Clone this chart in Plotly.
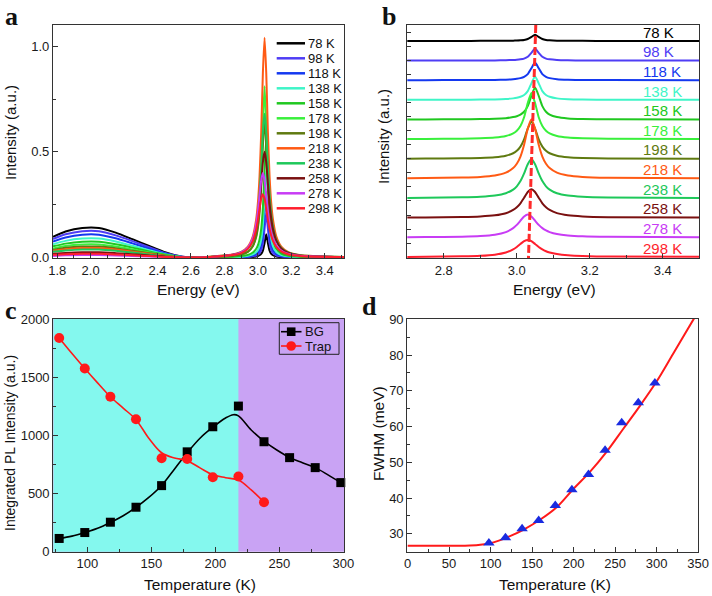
import plotly.graph_objects as go

FONT = "Arial, Liberation Sans, sans-serif"
SERIF = "Times New Roman, Liberation Serif, serif"
W, H = 712, 596

# ---- panel a / b : temperature dependent PL spectra ----
temps = [78, 98, 118, 138, 158, 178, 198, 218, 238, 258, 278, 298]
colors = ["#000000", "#4f3df5", "#1438f0", "#3ff5c8", "#20c820", "#39f03c",
          "#5f7a10", "#ff5a14", "#1ec85a", "#7a1010", "#c83cf5", "#ff1e2d"]

energy = [1.775, 1.85, 1.95, 2.05, 2.15, 2.25, 2.35, 2.45, 2.55, 2.65,
          2.75, 2.85, 2.90, 2.94, 2.97, 2.99, 3.00, 3.01, 3.02, 3.03, 3.04,
          3.05, 3.06, 3.07, 3.08, 3.09, 3.11, 3.14, 3.18, 3.25, 3.53]

pl_78 = [0.098, 0.123, 0.140, 0.140, 0.118, 0.087, 0.055, 0.024, 0.004, 0.000,
         0.000, 0.000, 0.001, 0.002, 0.003, 0.005, 0.007, 0.011, 0.017, 0.033, 0.069,
         0.110, 0.069, 0.033, 0.017, 0.011, 0.005, 0.002, 0.001, 0.000, 0.000]
pl_98 = [0.088, 0.110, 0.125, 0.125, 0.105, 0.078, 0.049, 0.021, 0.004, 0.000,
         0.000, 0.001, 0.002, 0.003, 0.006, 0.010, 0.014, 0.021, 0.035, 0.066, 0.136,
         0.210, 0.136, 0.066, 0.035, 0.021, 0.010, 0.005, 0.002, 0.001, 0.000]
pl_118 = [0.076, 0.095, 0.108, 0.108, 0.091, 0.067, 0.042, 0.018, 0.003, 0.000,
          0.001, 0.002, 0.003, 0.005, 0.010, 0.017, 0.024, 0.036, 0.059, 0.107, 0.210,
          0.310, 0.210, 0.107, 0.059, 0.036, 0.017, 0.008, 0.004, 0.002, 0.000]
pl_138 = [0.063, 0.079, 0.090, 0.090, 0.076, 0.056, 0.035, 0.015, 0.003, 0.000,
          0.001, 0.002, 0.004, 0.008, 0.015, 0.026, 0.036, 0.054, 0.086, 0.154, 0.290,
          0.410, 0.290, 0.154, 0.086, 0.054, 0.026, 0.012, 0.006, 0.002, 0.000]
pl_158 = [0.053, 0.066, 0.075, 0.075, 0.063, 0.047, 0.029, 0.013, 0.002, 0.000,
          0.002, 0.004, 0.007, 0.013, 0.024, 0.042, 0.058, 0.086, 0.136, 0.235, 0.416,
          0.560, 0.416, 0.235, 0.136, 0.086, 0.042, 0.019, 0.009, 0.004, 0.001]
pl_178 = [0.043, 0.055, 0.062, 0.062, 0.052, 0.038, 0.024, 0.011, 0.002, 0.000,
          0.003, 0.008, 0.015, 0.028, 0.056, 0.102, 0.149, 0.232, 0.384, 0.634, 0.810,
          0.634, 0.384, 0.232, 0.149, 0.102, 0.056, 0.028, 0.015, 0.007, 0.001]
pl_198 = [0.036, 0.046, 0.052, 0.052, 0.044, 0.032, 0.020, 0.009, 0.002, 0.000,
          0.003, 0.008, 0.014, 0.027, 0.054, 0.097, 0.140, 0.214, 0.341, 0.530, 0.650,
          0.530, 0.341, 0.214, 0.140, 0.097, 0.054, 0.027, 0.014, 0.006, 0.001]
pl_218 = [0.032, 0.040, 0.045, 0.045, 0.038, 0.028, 0.018, 0.008, 0.001, 0.000,
          0.007, 0.015, 0.027, 0.052, 0.101, 0.182, 0.258, 0.385, 0.592, 0.875, 1.040,
          0.875, 0.592, 0.385, 0.258, 0.182, 0.101, 0.052, 0.027, 0.012, 0.002]
pl_238 = [0.027, 0.033, 0.038, 0.038, 0.032, 0.024, 0.015, 0.006, 0.001, 0.000,
          0.006, 0.013, 0.024, 0.045, 0.085, 0.149, 0.207, 0.298, 0.433, 0.595, 0.680,
          0.595, 0.433, 0.298, 0.207, 0.149, 0.085, 0.045, 0.024, 0.011, 0.002]
pl_258 = [0.018, 0.022, 0.025, 0.025, 0.021, 0.016, 0.010, 0.004, 0.001, 0.000,
          0.005, 0.013, 0.023, 0.043, 0.080, 0.136, 0.184, 0.254, 0.350, 0.451, 0.500,
          0.451, 0.350, 0.254, 0.184, 0.136, 0.080, 0.043, 0.023, 0.010, 0.002]
pl_278 = [0.008, 0.011, 0.012, 0.012, 0.010, 0.007, 0.005, 0.002, 0.000, 0.000,
          0.005, 0.013, 0.024, 0.047, 0.093, 0.162, 0.219, 0.293, 0.366, 0.400, 0.366,
          0.293, 0.219, 0.162, 0.121, 0.093, 0.058, 0.033, 0.018, 0.009, 0.002]
pl_298 = [0.013, 0.016, 0.018, 0.018, 0.015, 0.011, 0.007, 0.003, 0.001, 0.000,
          0.005, 0.012, 0.021, 0.041, 0.079, 0.134, 0.177, 0.229, 0.278, 0.300, 0.278,
          0.229, 0.177, 0.134, 0.102, 0.079, 0.051, 0.029, 0.016, 0.008, 0.002]
spectra = [pl_78, pl_98, pl_118, pl_138, pl_158, pl_178,
           pl_198, pl_218, pl_238, pl_258, pl_278, pl_298]

# stacking in panel b
stack_level = [11, 10, 9, 8, 7, 6, 5, 4, 3, 2, 1, 0]
stack_step = 0.345
guide_energy = [3.052, 3.032]
guide_level = [11.81, -0.05]

# ---- panel c : integrated PL intensity ----
t_points = [78, 98, 118, 138, 158, 178, 198, 218, 238, 258, 278, 298]
bg_points = [112, 163, 252, 381, 567, 858, 1074, 1252, 945, 808, 722, 593]
t_trap = [78, 98, 118, 138, 158, 178, 198, 218, 238]
trap_points = [1839, 1576, 1332, 1138, 803, 797, 639, 645, 424]

t_bg_fit = [78, 88, 98, 108, 118, 128, 138, 148, 158, 168, 178, 188, 198, 208,
            214, 218, 228, 238, 248, 258, 268, 278, 288, 298]
bg_fit = [112, 132, 163, 200, 250, 308, 380, 465, 568, 708, 850, 975, 1070, 1150,
          1178, 1168, 1046, 950, 874, 810, 765, 722, 660, 593]
t_trap_fit = [78, 88, 98, 108, 118, 128, 138, 148, 158, 168, 178, 188, 198, 208,
              218, 228, 238]
trap_fit = [1839, 1705, 1576, 1452, 1332, 1235, 1135, 975, 850, 805, 782, 720,
            660, 635, 615, 530, 424]
shade_split = 218

# ---- panel d : FWHM ----
t_fwhm = [98, 118, 138, 158, 178, 198, 218, 238, 258, 278, 298]
fwhm = [27.4, 28.9, 31.4, 33.7, 37.9, 42.3, 46.6, 53.4, 61.1, 66.7, 72.2]
t_fwhm_fit = [0, 50, 75, 90, 100, 110, 120, 140, 160, 180, 200, 220, 240, 260,
              280, 300, 320, 345, 352]
fwhm_fit = [26.65, 26.65, 26.7, 27.0, 27.4, 28.1, 29.0, 31.2, 34.0, 37.5, 42.6,
            47.4, 53.0, 59.4, 65.8, 72.6, 80.4, 90.2, 93.0]


def px(x):
    return x / W


def py(y):
    return 1 - y / H


fig = go.Figure()

# panel a
for t, c, s in zip(temps, colors, spectra):
    fig.add_trace(go.Scatter(x=energy, y=s, mode="lines", xaxis="x", yaxis="y",
                             line=dict(color=c, width=2, shape="spline", smoothing=0.6),
                             name=f"{t} K"))

# panel b
for t, c, s, lv in zip(temps, colors, spectra, stack_level):
    fig.add_trace(go.Scatter(x=energy, y=[v / stack_step + lv for v in s], mode="lines",
                             xaxis="x2", yaxis="y2",
                             line=dict(color=c, width=2, shape="spline", smoothing=0.6)))
fig.add_trace(go.Scatter(x=guide_energy, y=guide_level, mode="lines", xaxis="x2", yaxis="y2",
                         line=dict(color="#ff2a2a", width=3, dash="8px,3px")))

# panel c
fig.add_trace(go.Scatter(x=t_bg_fit, y=bg_fit, mode="lines", xaxis="x3", yaxis="y3",
                         line=dict(color="black", width=1.6, shape="spline")))
fig.add_trace(go.Scatter(x=t_trap_fit, y=trap_fit, mode="lines", xaxis="x3", yaxis="y3",
                         line=dict(color="#ff1a1a", width=1.6, shape="spline")))
fig.add_trace(go.Scatter(x=t_points, y=bg_points, mode="markers", xaxis="x3", yaxis="y3",
                         marker=dict(symbol="square", size=9, color="black"), cliponaxis=False))
fig.add_trace(go.Scatter(x=t_trap, y=trap_points, mode="markers", xaxis="x3", yaxis="y3",
                         marker=dict(symbol="circle", size=10, color="#ff1a1a")))

# panel d
fig.add_trace(go.Scatter(x=t_fwhm_fit, y=fwhm_fit, mode="lines", xaxis="x4", yaxis="y4",
                         line=dict(color="#ff1a1a", width=2, shape="spline")))
fig.add_trace(go.Scatter(x=t_fwhm, y=fwhm, mode="markers", xaxis="x4", yaxis="y4",
                         marker=dict(symbol="triangle-up", size=10, color="#1a2be0")))

tickfont = dict(family=FONT, size=13, color="#1a1a1a")


def axis(**kw):
    base = dict(showline=True, linecolor="#333", linewidth=1.2, mirror=True,
                ticks="inside", ticklen=5, tickwidth=1.2, tickcolor="#333",
                showgrid=False, zeroline=False, tickfont=tickfont, automargin=False)
    base.update(kw)
    return base


def minor(d):
    return dict(ticks="inside", ticklen=3, tickwidth=1, tickcolor="#333", dtick=d)


ya_dom = [py(258), py(25)]
yc_dom = [py(551.7), py(319)]
fig.update_layout(
    width=W, height=H, margin=dict(l=0, r=0, t=0, b=0, autoexpand=False),
    paper_bgcolor="white", plot_bgcolor="white", showlegend=False,
    xaxis=axis(domain=[px(53), px(344)], range=[1.775, 3.515], dtick=0.2, tick0=1.8,
               tickformat=".1f", minor=minor(0.1), anchor="y"),
    yaxis=axis(domain=ya_dom, range=[-0.002, 1.1], dtick=0.5, tickformat=".1f",
               minor=minor(0.25), anchor="x"),
    xaxis2=axis(domain=[px(407.3), px(699.3)], range=[2.7, 3.5], dtick=0.2, tick0=2.8,
                tickformat=".1f", minor=minor(0.1), anchor="y2"),
    yaxis2=axis(domain=ya_dom, range=[-0.05, 11.81], dtick=0.713, tick0=0,
                showticklabels=False, ticklen=4, anchor="x2"),
    xaxis3=axis(domain=[px(53.3), px(344)], range=[73.4, 300.5], dtick=50, tick0=0,
                minor=minor(25), anchor="y3"),
    yaxis3=axis(domain=yc_dom, range=[-2, 2002], dtick=500, minor=minor(250), anchor="x3"),
    xaxis4=axis(domain=[px(407.3), px(698.3)], range=[-0.3, 350.3], dtick=50, tick0=0,
                minor=minor(25), anchor="y4"),
    yaxis4=axis(domain=yc_dom, range=[25, 90.1], dtick=10, tick0=0, minor=minor(5),
                anchor="x4"),
)

shapes = [
    dict(type="rect", xref="x3 domain", yref="y3 domain", x0=0, x1=1, y0=0, y1=1,
         fillcolor="#c9a3f4", line_width=0, layer="below"),
    dict(type="rect", xref="x3", yref="y3 domain", x0=73.4, x1=shade_split, y0=0, y1=1,
         fillcolor="#84f8ee", line_width=0, layer="below"),
]
annotations = []

# panel a legend
for i, (t, c) in enumerate(zip(temps, colors)):
    yc = 43.3 + i * 15.0
    shapes.append(dict(type="line", xref="paper", yref="paper", x0=px(276.7), x1=px(305),
                       y0=py(yc), y1=py(yc), line=dict(color=c, width=2.5)))
    annotations.append(dict(text=f"{t} K", xref="paper", yref="paper", x=px(306), y=py(yc),
                            xanchor="left", yanchor="middle", showarrow=False,
                            font=dict(family=FONT, size=13, color="#111")))

# panel b labels
for t, c, lv in zip(temps, colors, stack_level):
    annotations.append(dict(text=f"{t} K", xref="x2", yref="y2", x=3.34, y=lv + 0.45,
                            xanchor="left", yanchor="middle", showarrow=False,
                            font=dict(family=FONT, size=15, color=c)))

# panel c legend
shapes.append(dict(type="rect", xref="paper", yref="paper", x0=px(279.3), x1=px(339),
                   y0=py(354.3), y1=py(322.7), line=dict(color="#222", width=1)))
for name, yc, c, sym in [("BG", 331.7, "black", "square"), ("Trap", 346, "#ff1a1a", "circle")]:
    shapes.append(dict(type="line", xref="paper", yref="paper", x0=px(281), x1=px(301.5),
                       y0=py(yc), y1=py(yc), line=dict(color=c, width=1.6)))
    r = 4.3 if sym == "square" else 4.8
    shapes.append(dict(type="rect" if sym == "square" else "circle", xref="paper", yref="paper",
                       x0=px(291.2 - r), x1=px(291.2 + r), y0=py(yc + r), y1=py(yc - r),
                       fillcolor=c, line_width=0))
    annotations.append(dict(text=name, xref="paper", yref="paper", x=px(303), y=py(yc),
                            xanchor="left", yanchor="middle", showarrow=False,
                            font=dict(family=FONT, size=13, color="#111")))

# axis titles
for text, x, y, ang, size in [("Energy (eV)", 198, 289, 0, 15.5),
                              ("Intensity (a.u.)", 10, 133, -90, 15),
                              ("Energy (eV)", 554, 289, 0, 15.5),
                              ("Intensity (a.u.)", 383, 136, -90, 15),
                              ("Temperature (K)", 200, 584, 0, 15.5),
                              ("Integrated PL Intensity (a.u.)", 10, 443, -90, 14),
                              ("Temperature (K)", 555, 584, 0, 15.5),
                              ("FWHM (meV)", 378, 434, -90, 15.5)]:
    annotations.append(dict(text=text, xref="paper", yref="paper", x=px(x), y=py(y),
                            xanchor="center", yanchor="middle", showarrow=False,
                            textangle=ang, font=dict(family=FONT, size=size, color="#111")))

# panel letters
for letter, x, y in [("a", 11, 17), ("b", 389, 17), ("c", 11, 310), ("d", 369, 306)]:
    annotations.append(dict(text=f"<b>{letter}</b>", xref="paper", yref="paper", x=px(x), y=py(y),
                            xanchor="center", yanchor="middle", showarrow=False,
                            font=dict(family=SERIF, size=26, color="#111")))

fig.update_layout(shapes=shapes, annotations=annotations)
# the page body has a default 8px margin; drop it so the figure sits at the origin
fig.write_html("out.html", config={"displayModeBar": False},
               post_script="document.body.style.margin='0';")
